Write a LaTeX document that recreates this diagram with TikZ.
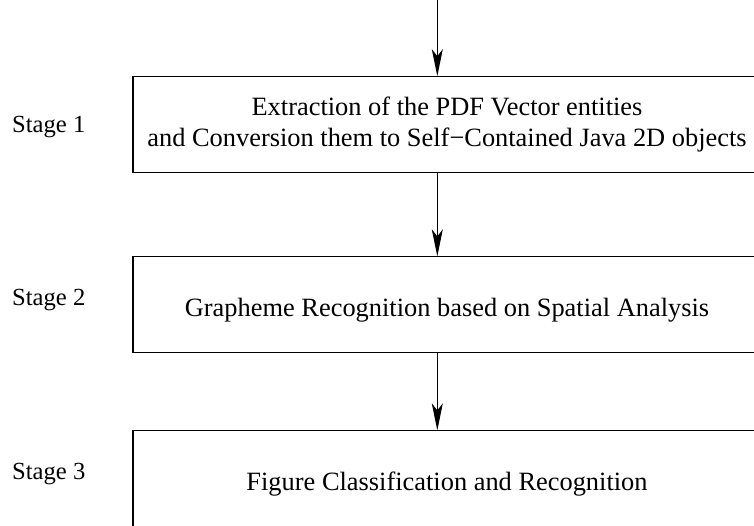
\documentclass[tikz,border=0pt]{standalone}
\usepackage{fontspec}
\setmainfont{Liberation Serif}
\usetikzlibrary{arrows.meta}
\begin{document}
\begin{tikzpicture}[x=1pt,y=-1pt,
  stagebox/.style={draw, line width=1.1pt, minimum width=628pt, minimum height=95.6pt,
    align=center, inner sep=0pt, font=\fontsize{26.4}{31}\selectfont},
  oneline/.style={text height=30pt, text depth=6pt},
  stagelabel/.style={anchor=base west, inner sep=0pt, font=\fontsize{24.6}{29}\selectfont},
  arr/.style={line width=1.1pt, -{Stealth[length=27pt, width=11pt, inset=7pt]}}]
\useasboundingbox (0,0) rectangle (754,525);
\clip (0,0) rectangle (754,525);
\coordinate (top) at (437.3,0);
\node[stagebox] (b1) at (447,124.5) {Extraction of the PDF Vector entities\\and Conversion them to Self−Contained Java 2D objects};
\node[stagebox, oneline] (b2) at (447,304.7) {Grapheme Recognition based on Spatial Analysis};
\node[stagebox, oneline] (b3) at (447,478.7) {Figure Classification and Recognition};
\node[stagelabel] (s1) at (12,132) {Stage 1};
\node[stagelabel] (s2) at (12,305.5) {Stage 2};
\node[stagelabel] (s3) at (12,479.5) {Stage 3};
\draw[arr] (top) -- (b1.north -| top);
\draw[arr] (b1.south -| top) -- (b2.north -| top);
\draw[arr] (b2.south -| top) -- (b3.north -| top);
\end{tikzpicture}
\end{document}
